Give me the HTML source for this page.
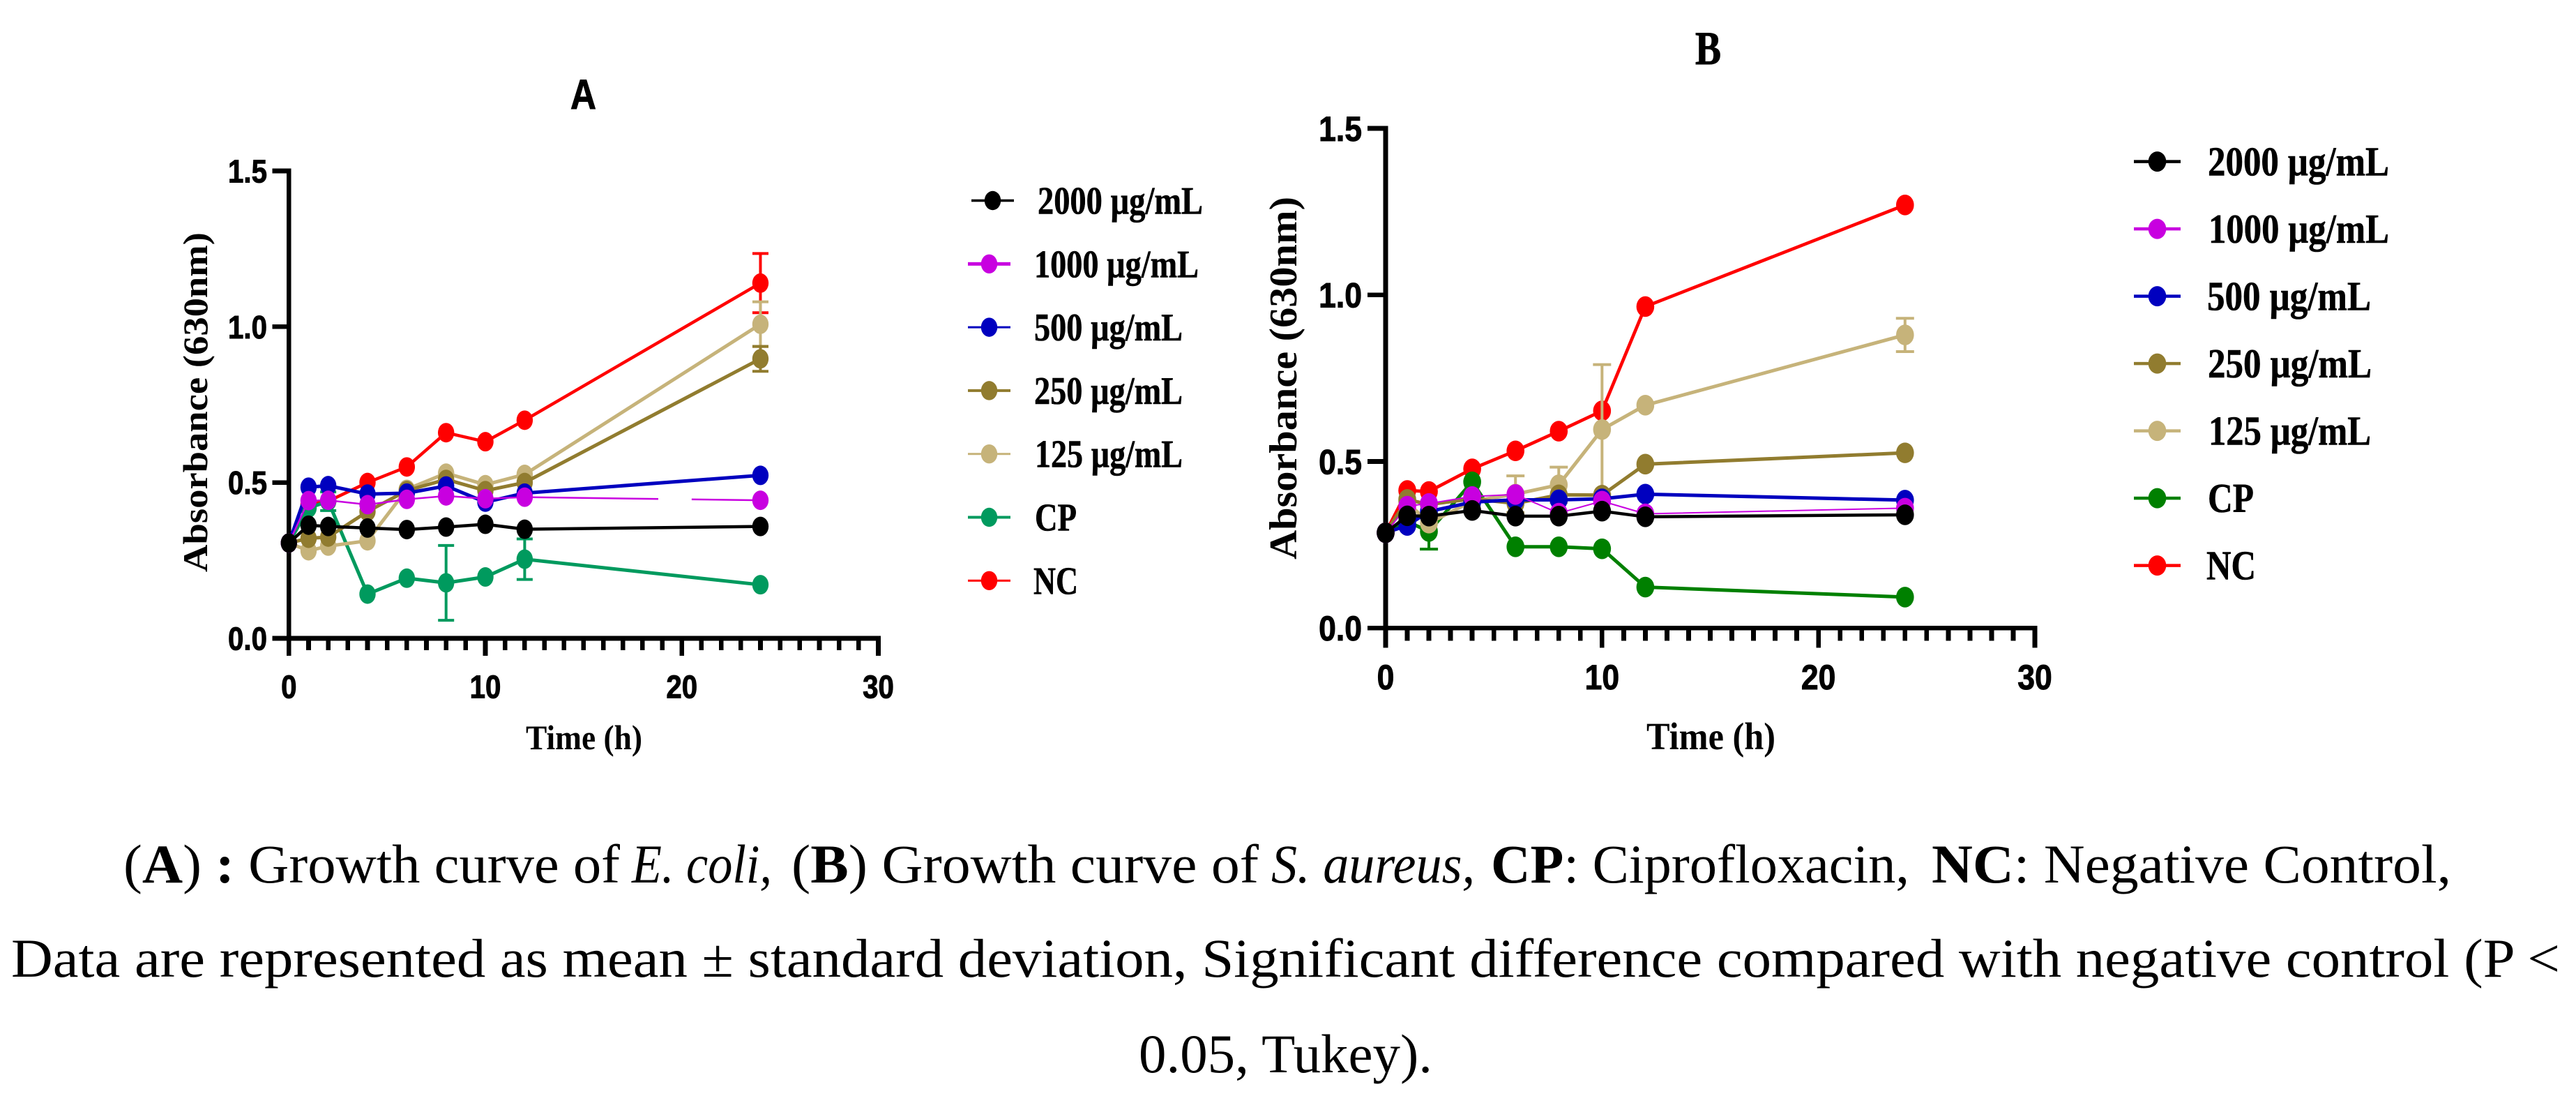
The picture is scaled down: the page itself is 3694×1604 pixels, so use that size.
<!DOCTYPE html>
<html lang="en">
<head>
<meta charset="utf-8">
<title>Growth curves of E. coli and S. aureus</title>
<style>
  html, body { margin: 0; padding: 0; background: #fff; }
  body { width: 3694px; height: 1604px; overflow: hidden; position: relative; }
  svg { position: absolute; left: 0; top: 0; display: block; }
  .cap { font-family: "Liberation Serif", serif; font-size: 78px; fill: #000; }
  .b { font-weight: bold; }
  .i { font-style: italic; }
</style>
</head>
<body>
<svg id="fig" xmlns="http://www.w3.org/2000/svg" width="3694" height="1604" viewBox="0 0 3694 1604">
  <rect width="3694" height="1604" fill="#fff"/>
  <g id="chartA"></g>
  <g id="chartB"></g>
  <g>
    <text class="cap" x="177" y="1265" textLength="712" lengthAdjust="spacingAndGlyphs" xml:space="preserve">(<tspan class="b">A</tspan>) <tspan class="b">:</tspan> Growth curve of</text>
    <text class="cap i" x="906" y="1265" textLength="201" lengthAdjust="spacingAndGlyphs">E. coli,</text>
    <text class="cap" x="1135" y="1265" textLength="670" lengthAdjust="spacingAndGlyphs" xml:space="preserve">(<tspan class="b">B</tspan>) Growth curve of</text>
    <text class="cap i" x="1823" y="1265" textLength="292" lengthAdjust="spacingAndGlyphs">S. aureus,</text>
    <text class="cap" x="2138" y="1265" textLength="600" lengthAdjust="spacingAndGlyphs"><tspan class="b">CP</tspan>: Ciprofloxacin,</text>
    <text class="cap" x="2770" y="1265" textLength="745" lengthAdjust="spacingAndGlyphs"><tspan class="b">NC</tspan>: Negative Control,</text>
    <text class="cap" x="16" y="1400" textLength="3655" lengthAdjust="spacingAndGlyphs">Data are represented as mean ± standard deviation, Significant difference compared with negative control (P &lt;</text>
    <text class="cap" x="1633" y="1537" textLength="421" lengthAdjust="spacingAndGlyphs">0.05, Tukey).</text>
  </g>
</svg>
<script>
/* ---------- shared data ---------- */
const timesH = [0, 1, 2, 4, 6, 8, 10, 12, 24];
const yTickValues = [0, 0.5, 1.0, 1.5];
const yTickLabels = ['0.0', '0.5', '1.0', '1.5'];
const xTickValues = [0, 10, 20, 30];
const xTickLabels = ['0', '10', '20', '30'];
const seriesNames = ['2000 µg/mL', '1000 µg/mL', '500 µg/mL', '250 µg/mL', '125 µg/mL', 'CP', 'NC'];

/* ---------- panel A (E. coli) values ---------- */
const a2000 = [0.306, 0.363, 0.359, 0.354, 0.349, 0.357, 0.366, 0.350, 0.359];
const a1000 = [0.306, 0.442, 0.443, 0.429, 0.446, 0.457, 0.448, 0.453, 0.443];
const a500  = [0.306, 0.485, 0.490, 0.463, 0.466, 0.489, 0.437, 0.466, 0.523];
const a250  = [0.306, 0.321, 0.325, 0.407, 0.474, 0.510, 0.474, 0.500, 0.897];
const a125  = [0.306, 0.281, 0.296, 0.313, 0.478, 0.530, 0.493, 0.526, 1.008];
const aCP   = [0.306, 0.418, 0.440, 0.142, 0.193, 0.178, 0.197, 0.254, 0.172];
const aNC   = [0.306, 0.430, 0.440, 0.500, 0.550, 0.660, 0.631, 0.700, 1.140];
const aErr250 = [0, 0, 0, 0, 0, 0, 0, 0, 0.040];
const aErr125 = [0, 0, 0, 0, 0, 0, 0, 0, 0.072];
const aErrCP  = [0, 0, 0.030, 0, 0, 0.120, 0, 0.065, 0];
const aErrNC  = [0, 0, 0, 0, 0, 0, 0, 0, 0.095];
const aLineBreak1000 = [18.8, 20.5];

/* ---------- panel B (S. aureus) values ---------- */
const b2000 = [0.286, 0.337, 0.336, 0.353, 0.336, 0.336, 0.351, 0.334, 0.340];
const b1000 = [0.286, 0.366, 0.374, 0.395, 0.401, 0.345, 0.381, 0.343, 0.360];
const b500  = [0.286, 0.308, 0.350, 0.378, 0.385, 0.385, 0.388, 0.402, 0.384];
const b250  = [0.286, 0.386, 0.371, 0.388, 0.374, 0.400, 0.399, 0.492, 0.526];
const b125  = [0.286, 0.378, 0.315, 0.381, 0.402, 0.430, 0.596, 0.669, 0.880];
const bCP   = [0.286, 0.320, 0.290, 0.439, 0.244, 0.244, 0.238, 0.123, 0.093];
const bNC   = [0.286, 0.413, 0.410, 0.478, 0.532, 0.591, 0.652, 0.965, 1.270];
const bErr125 = [0, 0, 0, 0, 0.055, 0.053, 0.195, 0, 0.050];
const bErrCP  = [0, 0, 0.053, 0, 0, 0, 0, 0, 0];

/* ---------- rendering ---------- */
const NS = 'http://www.w3.org/2000/svg';
function mk(tag, attrs, parent) {
  const el = document.createElementNS(NS, tag);
  for (const k in attrs) el.setAttribute(k, attrs[k]);
  parent.appendChild(el);
  return el;
}
const SANS = '"Liberation Sans", sans-serif';
const SERIF = '"Liberation Serif", serif';

function valueAt(values, t) {
  for (let i = 1; i < timesH.length; i++) {
    if (t <= timesH[i]) {
      const f = (t - timesH[i - 1]) / (timesH[i] - timesH[i - 1]);
      return values[i - 1] + f * (values[i] - values[i - 1]);
    }
  }
  return values[values.length - 1];
}

function drawChart(root, c) {
  const x = t => c.x0 + (t - 0) * (c.x30 - c.x0) / 30;
  const y = v => c.y0 + (v - 0) * (c.y15 - c.y0) / 1.5;

  /* axes */
  const axes = mk('g', {fill: '#000', 'shape-rendering': 'crispEdges'}, root);
  
  
  const yAxis = mk('rect', {x: c.x0 - c.axisW / 2, y: y(1.5) - c.axisW / 2, width: c.axisW, height: c.y0 - y(1.5) + c.axisW}, axes);
  
  
  const xAxis = mk('rect', {x: c.x0 - c.axisW / 2, y: c.y0 - c.axisW / 2, width: x(30) - c.x0 + c.axisW, height: c.axisW}, axes);
  
  

  yTickValues.forEach((v, i) => {
    const tick = mk('rect', {x: c.x0 - c.yTickLen, y: y(v) - c.axisW / 2, width: c.yTickLen, height: c.axisW}, axes);
    
    
    const lab = mk('text', {transform: 'translate(' + c.yLabelRight + ',' + (y(v) + c.tickFont * 0.358) + ') scale(' + c.tickSqueeze + ',1)', 'text-anchor': 'end', 'font-family': SANS, 'font-weight': 'bold', 'font-size': c.tickFont, stroke: '#000', 'stroke-width': 1}, root);
    lab.textContent = yTickLabels[i];
    
    
  });
  for (let t = 0; t <= 30; t++) {
    const major = t % 10 === 0;
    const len = major ? c.majorLen : c.minorLen;
    const tick = mk('rect', {x: x(t) - c.axisW / 2, y: c.y0, width: c.axisW, height: len}, axes);
    
    
  }
  xTickValues.forEach((t, i) => {
    const lab = mk('text', {transform: 'translate(' + x(t) + ',' + (c.xLabelY + c.tickFont * 0.358) + ') scale(' + c.tickSqueeze + ',1)', 'text-anchor': 'middle', 'font-family': SANS, 'font-weight': 'bold', 'font-size': c.tickFont, stroke: '#000', 'stroke-width': 1}, root);
    lab.textContent = xTickLabels[i];
    
    
  });

  /* titles */
  const title = mk('text', {x: c.title.x, y: c.title.y, 'font-family': c.title.family, 'font-weight': 'bold', 'font-size': c.title.size, textLength: c.title.w, lengthAdjust: 'spacingAndGlyphs', stroke: '#000', 'stroke-width': 1}, root);
  title.textContent = c.title.text;
  
  
  const xTitle = mk('text', {x: c.xTitle.x, y: c.xTitle.y, 'font-family': SERIF, 'font-weight': 'bold', 'font-size': c.xTitle.size, textLength: c.xTitle.w, lengthAdjust: 'spacingAndGlyphs'}, root);
  xTitle.textContent = 'Time (h)';
  
  
  const yTitle = mk('text', {transform: 'translate(' + c.yTitle.x + ',' + c.yTitle.y + ') rotate(-90)', 'font-family': SERIF, 'font-weight': 'bold', 'font-size': c.yTitle.size, textLength: c.yTitle.w, lengthAdjust: 'spacingAndGlyphs'}, root);
  yTitle.textContent = 'Absorbance (630nm)';
  
  

  /* series: drawn back to front (reverse of legend order) */
  c.series.slice().reverse().forEach(s => {
    const g = mk('g', {}, root);
    
    
    if (s.err) {
      s.err.forEach((e, i) => {
        if (!e) return;
        const px = x(timesH[i]);
        const top = y(s.values[i] + e);
        const bot = y(s.values[i] - e);
        const bar = mk('path', {d: 'M' + px + ' ' + top + 'V' + bot + 'M' + (px - c.capW / 2) + ' ' + top + 'H' + (px + c.capW / 2) + 'M' + (px - c.capW / 2) + ' ' + bot + 'H' + (px + c.capW / 2), fill: 'none', stroke: s.color, 'stroke-width': c.errW}, g);
        
        
      });
    }
    const d = s.values.map((v, i) => (i ? 'L' : 'M') + x(timesH[i]) + ' ' + y(v)).join('');
    const line = mk('path', {d: d, fill: 'none', stroke: s.color, 'stroke-width': s.lineW, 'stroke-linejoin': 'round'}, g);
    
    
    if (s.lineBreak) {
      const t0 = s.lineBreak[0];
      const t1 = s.lineBreak[1];
      const gap = mk('path', {d: 'M' + x(t0) + ' ' + y(valueAt(s.values, t0)) + 'L' + x(t1) + ' ' + y(valueAt(s.values, t1)), fill: 'none', stroke: '#fff', 'stroke-width': s.lineW + 2}, g);
      
      
    }
    s.values.forEach((v, i) => {
      const pt = mk('ellipse', {cx: x(timesH[i]), cy: y(v), rx: c.rx, ry: c.ry, fill: s.color}, g);
      
      
    });
  });

  /* legend */
  const legend = mk('g', {}, root);
  
  
  c.series.forEach((s, i) => {
    const row = c.legend.y0 + i * c.legend.dy;
    const first = c.legend.firstOffset && i === 0 ? c.legend.firstOffset : 0;
    const entry = mk('g', {}, legend);
    
    
    const ln = mk('rect', {x: c.legend.lineX + first, y: row - s.legendW / 2, width: c.legend.lineLen, height: s.legendW, fill: s.color}, entry);
    
    
    const mark = mk('ellipse', {cx: c.legend.lineX + first + c.legend.markOff, cy: row, rx: c.rx, ry: c.ry * 0.98, fill: s.color}, entry);
    
    
    const tx = mk('text', {x: c.legend.textX[i], y: row + c.legend.baseOff, 'font-family': SERIF, 'font-weight': 'bold', 'font-size': c.legend.font, textLength: c.legend.textW[i], lengthAdjust: 'spacingAndGlyphs', stroke: '#000', 'stroke-width': 0.6}, entry);
    tx.textContent = seriesNames[i];
    
    
  });
}

drawChart(document.getElementById('chartA'), {
  x0: 414.3, x30: 1259.5, y0: 915, y15: 245,
  axisW: 6.6, yTickLen: 24, majorLen: 25, minorLen: 17,
  tickFont: 46, tickSqueeze: 0.875, yLabelRight: 383, xLabelY: 984,
  rx: 11.7, ry: 14, capW: 23, errW: 4,
  title: {text: 'A', x: 818, y: 156, size: 60, w: 37, family: SANS},
  xTitle: {x: 754, y: 1074, size: 50, w: 167},
  yTitle: {x: 297, y: 820, size: 50, w: 487},
  series: [
    {key: '2000', values: a2000, color: '#000000', lineW: 4.5, legendW: 3.6},
    {key: '1000', values: a1000, color: '#c800e0', lineW: 2.5, legendW: 5, lineBreak: aLineBreak1000},
    {key: '500',  values: a500,  color: '#0000bf', lineW: 5, legendW: 3},
    {key: '250',  values: a250,  color: '#917c2f', lineW: 5, legendW: 4, err: aErr250},
    {key: '125',  values: a125,  color: '#c6b37a', lineW: 5, legendW: 3, err: aErr125},
    {key: 'cp',   values: aCP,   color: '#009a5e', lineW: 5, legendW: 4, err: aErrCP},
    {key: 'nc',   values: aNC,   color: '#ff0000', lineW: 4.5, legendW: 3, err: aErrNC}
  ],
  legend: {y0: 287.5, dy: 90.8, lineX: 1388, lineLen: 61, markOff: 30.5, firstOffset: 5, font: 56, baseOff: 19,
           textX: [1488, 1483, 1483, 1483, 1484, 1484, 1482],
           textW: [237, 236, 213, 213, 212, 60, 64]}
});

drawChart(document.getElementById('chartB'), {
  x0: 1987, x30: 2918, y0: 900.3, y15: 184,
  axisW: 6.8, yTickLen: 26, majorLen: 28, minorLen: 18,
  tickFont: 50, tickSqueeze: 0.89, yLabelRight: 1953, xLabelY: 970,
  rx: 12.8, ry: 14.8, capW: 26, errW: 4,
  title: {text: 'B', x: 2431, y: 92, size: 68, w: 37, family: SERIF},
  xTitle: {x: 2361, y: 1074, size: 55, w: 185},
  yTitle: {x: 1859, y: 802, size: 56, w: 520},
  series: [
    {key: '2000', values: b2000, color: '#000000', lineW: 4.5, legendW: 4.5},
    {key: '1000', values: b1000, color: '#c800e0', lineW: 2, legendW: 4.5},
    {key: '500',  values: b500,  color: '#0000bf', lineW: 5, legendW: 4.5},
    {key: '250',  values: b250,  color: '#917c2f', lineW: 5, legendW: 4.5},
    {key: '125',  values: b125,  color: '#c6b37a', lineW: 5, legendW: 4.5, err: bErr125},
    {key: 'cp',   values: bCP,   color: '#008000', lineW: 5, legendW: 4.5, err: bErrCP},
    {key: 'nc',   values: bNC,   color: '#ff0000', lineW: 4.7, legendW: 4.5}
  ],
  legend: {y0: 231.6, dy: 96.5, lineX: 3060, lineLen: 67, markOff: 33.5, font: 59, baseOff: 20,
           textX: [3166, 3167, 3165, 3166, 3167, 3166, 3164],
           textW: [260, 259, 235, 235, 233, 66, 71]}
});
</script>
</body>
</html>
